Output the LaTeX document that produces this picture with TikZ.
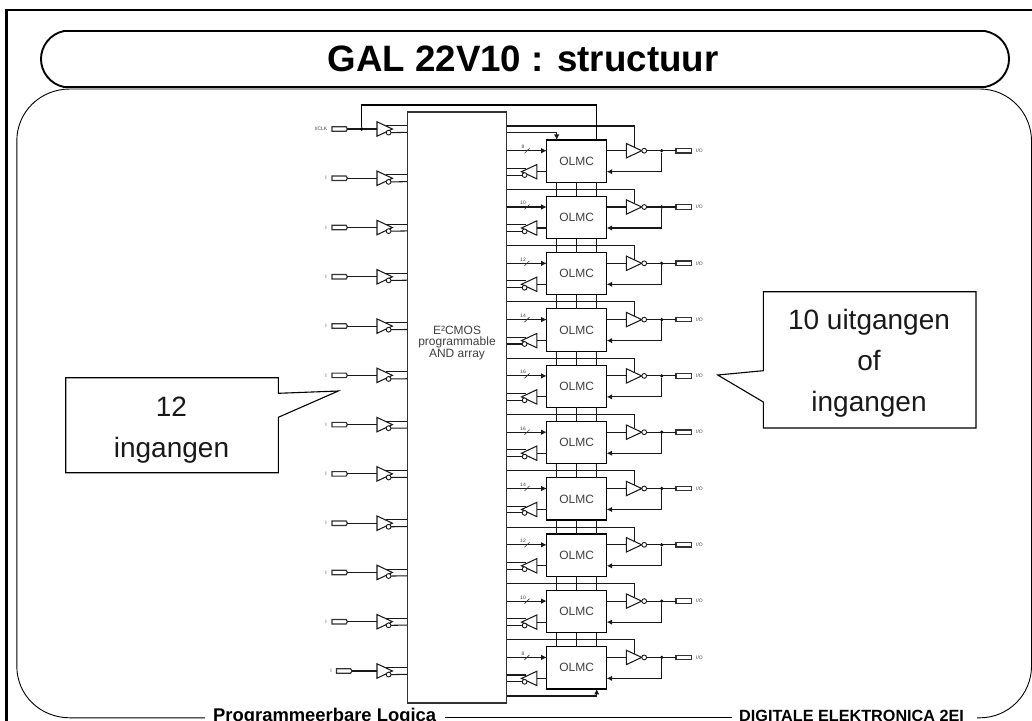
\documentclass[tikz,border=0pt]{standalone}
\usepackage{fontspec}
\setmainfont{Liberation Sans}
\usetikzlibrary{shapes.geometric,shapes.symbols,arrows.meta,calc}
\tikzset{
  wire/.style={line width=1.05pt,black!90},
  gate/.style={draw,line width=1.05pt,black!90,fill=white,isosceles triangle,isosceles triangle stretches,minimum width=14.4pt,minimum height=15.4pt,inner sep=0pt,outer sep=0pt},
  bubble/.style={draw,line width=0.9pt,black!90,fill=white,circle,minimum size=4.8pt,inner sep=0pt,outer sep=0pt},
  dotj/.style={fill=black,circle,minimum size=3.6pt,inner sep=0pt,outer sep=0pt},
  olmcbox/.style={draw,line width=1.2pt,fill=white,minimum width=60pt,minimum height=42.3pt,inner sep=0pt,outer sep=0pt,font=\fontsize{12}{14}\selectfont,text=black!75},
  pinbox/.style={draw,line width=1.2pt,black!80,fill=white,signal,signal to=east,signal pointer angle=120,minimum width=15.5pt,minimum height=4.5pt,inner sep=0pt,outer sep=0pt},
  tiny/.style={inner sep=0pt,font=\fontsize{5}{6}\selectfont,text=black!75},
  tip/.style={-{Latex[length=5.5pt,width=5.5pt]}},
  callout/.style={draw=black,line width=1.1pt,fill=white,line join=miter},
  calltext/.style={inner sep=0pt,anchor=base,font=\fontsize{28}{30}\selectfont,text=black!90},
}
\begin{document}
\begin{tikzpicture}[x=1pt,y=-1pt,line cap=butt]
\useasboundingbox (0,0) rectangle (1032,720);
\clip (0,0) rectangle (1032,720);
% frame
\draw[line width=2.6pt] (6.5,722) -- (6.5,10) -- (1034,10);
% body
\draw[line width=0.9pt] (205,717.8) -- (70,717.8) .. controls (40,717.8) and (16.8,695) .. (16.8,666)
  -- (16.8,141) .. controls (16.8,112) and (40,89) .. (70,89) -- (980,89)
  .. controls (1008,89) and (1031.5,112) .. (1031.5,141) -- (1031.5,666)
  .. controls (1031.5,695) and (1008,717.8) .. (980,717.8) -- (977,717.8);
\draw[line width=0.9pt] (445,717.8) -- (732,717.8);
% title
\draw[line width=1.9pt,fill=white] (64,31) -- (985,31) .. controls (1000,34) and (1009,46) .. (1009,59)
  .. controls (1009,72) and (1000,84) .. (985,87) -- (64,87) .. controls (50,84) and (41,72) .. (41,59)
  .. controls (41,46) and (50,34) .. (64,31) -- cycle;
\node[inner sep=0pt,anchor=base,font=\bfseries\fontsize{36.7}{38}\selectfont] (title) at (523,71.7) {GAL 22V10 : structuur};
\node[inner sep=0pt,anchor=base west,font=\bfseries\fontsize{18.4}{20}\selectfont] (foot1) at (213,721) {Programmeerbare Logica};
\node[inner sep=0pt,anchor=base west,font=\bfseries\fontsize{16.2}{18}\selectfont] (foot2) at (739,721.5) {DIGITALE ELEKTRONICA 2EI};
% array
\node[draw,line width=1.2pt,black!80,fill=white,minimum width=99.7pt,minimum height=591pt,inner sep=0pt,outer sep=0pt] (array) at (457,407.5) {};
\node[align=center,inner sep=0pt,font=\fontsize{12}{12}\selectfont,text=black!75] (arraytext) at (457,343) {E²CMOS\\[-0.4pt]programmable\\[-0.4pt]AND array};
% clock
\coordinate (clkup) at (361.7,105);
\coordinate (clktop) at (596.7,105);
% inputs
\foreach \i in {0,...,11}{
  \pgfmathsetmacro{\yy}{129+49.27*\i}
  \pgfmathsetmacro{\px}{\i==11 ? 343.5 : 339}
  \node[pinbox] (pin\i) at (\px,\yy) {};
  \coordinate (arrU\i) at (407,\yy-3.4);
  \coordinate (arrL\i) at (407,\yy+3.4);
  \node[gate,anchor=apex] (inb\i) at (392.4,\yy) {};
  \node[bubble] (inbub\i) at (388.6,\yy+3.6) {};
  \draw[wire] (pin\i.east) -- (inb\i.lower side);
  \draw[wire] ($(inb\i.apex)+(-6.5,-3.4)$) -- (arrU\i);
  \draw[wire] (inbub\i.east) -- (arrL\i);
}
\node[tiny] (lblclk) at (321,129) {I/CLK};
\foreach \i in {1,...,10}{
  \pgfmathsetmacro{\yy}{129+49.27*\i}
  \node[tiny] (lbl\i) at (326,\yy) {I};
}
\node[tiny] (lbl11) at (331,671) {I};
% OLMC cells
\foreach \i/\n in {0/8,1/10,2/12,3/14,4/16,5/16,6/14,7/12,8/10,9/8}{
  \pgfmathsetmacro{\tt}{140+56.3*\i}
  \pgfmathsetmacro{\ya}{\tt+10.7}
  \pgfmathsetmacro{\yb}{\tt+31.7}
  \pgfmathsetmacro{\yc}{\tt+21.1}
  \pgfmathsetmacro{\yl}{\i==0 ? \tt-14 : \tt-7}
  \node[olmcbox] (olmc\i) at (576.7,\yc) {OLMC};
  % input from array
  \coordinate (ain\i) at (506.8,\ya);
  \draw[wire,tip] (ain\i) -- (olmc\i.west |- ain\i);
  \coordinate (sl1\i) at (524.5,\ya+2.5);
  \coordinate (sl2\i) at (529.5,\ya-2.5);
  \draw[line width=0.6pt,black!80] (sl1\i) -- (sl2\i);
  \node[tiny] (cnt\i) at (523,\ya-3.8) {\n};
  % output inverter
  \node[gate,anchor=apex] (ob\i) at (641.7,\ya) {};
  \node[bubble] (obub\i) at (644.2,\ya) {};
  \node[pinbox,signal to=nowhere,minimum width=15.5pt] (opin\i) at (683.8,\ya) {};
  \node[dotj] (odot\i) at (661.7,\ya) {};
  \node[tiny] (io\i) at (699.5,\ya) {I/O};
  \draw[wire] (olmc\i.east |- ob\i.lower side) -- (ob\i.lower side);
  \draw[wire] (obub\i.east) -- (opin\i.west);
  % feedback into OLMC
  \coordinate (fbk\i) at (661.7,\yb);
  \draw[wire] (odot\i) -- (fbk\i);
  \draw[wire,tip] (fbk\i) -- (olmc\i.east |- fbk\i);
  % feedback buffer to array
  \node[gate,shape border rotate=180,anchor=apex] (fb\i) at (521.5,\yb) {};
  \node[bubble] (fbub\i) at (524.6,\yb+3.4) {};
  \draw[wire] (olmc\i.west |- fb\i.lower side) -- (fb\i.lower side);
  \draw[wire] (506.8,\yb-3.4) -- (526,\yb-3.4);
  \draw[wire] (506.8,\yb+3.4) -- (fbub\i.west);
  % output enable
  \coordinate (oe\i) at (634.3,\yl);
  \draw[wire] (506.8,\yl) -- (oe\i) -- (634.3,\ya-3.8);
}
% connectors between cells
\foreach \i [count=\j from 1] in {0,...,8}{
  \foreach \x in {556.7,576.7,596.7}{
    \draw[wire] (olmc\i.south -| \x,0) -- (olmc\j.north -| \x,0);
  }
}
% clock routing
\node[dotj] (clkdot) at (361.7,129) {};
\draw[line width=1.1pt] (clkdot) -- (clkup) -- (clktop) -- (olmc0.north -| clktop);
% preset line to first cell
\coordinate (pst) at (556.7,132.7);
\draw[wire] (506.8,132.7) -- (pst);
\draw[wire,tip] (pst) -- (olmc0.north -| pst);
% last cell clock
\coordinate (lastc) at (596.7,696);
\draw[wire] (506.8,696) -- (lastc);
\draw[wire,tip] (lastc) -- (olmc9.south -| lastc);
% left callout
\draw[callout] (65.7,377.7) -- (278.3,377.7) -- (278.3,393.3) -- (338.3,391) -- (278.3,417.3) -- (278.3,472.7) -- (65.7,472.7) -- cycle;
\node[calltext] (c1a) at (171.5,416) {12};
\node[calltext] (c1b) at (171.5,457) {ingangen};
% right callout
\draw[callout] (763.3,291.7) -- (976,291.7) -- (976,428) -- (763.3,428) -- (763.3,402) -- (717.7,375) -- (763.3,370.7) -- cycle;
\node[calltext] (c2a) at (869,329.3) {10 uitgangen};
\node[calltext] (c2b) at (869,370.5) {of};
\node[calltext] (c2c) at (869,411.5) {ingangen};
\end{tikzpicture}
\end{document}
